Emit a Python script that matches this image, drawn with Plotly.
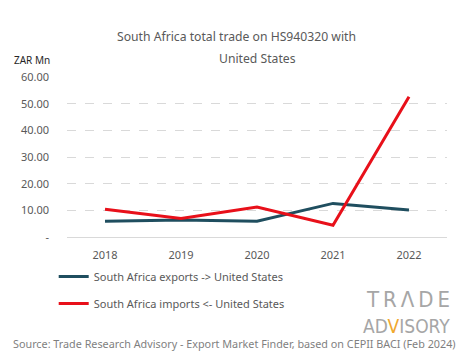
import plotly.graph_objects as go

years = ["2018", "2019", "2020", "2021", "2022"]
exports = [5.9, 6.4, 5.9, 12.6, 10.1]
imports = [10.4, 6.9, 11.2, 4.4, 52.6]
tick_vals = [0, 10, 20, 30, 40, 50, 60]
tick_text = ["-", "10.00", "20.00", "30.00", "40.00", "50.00", "60.00"]

FONT = "Noto Sans"
GREY = "#595959"
LOGO_FONT = "DejaVu Sans Condensed, Liberation Sans Narrow, Liberation Sans"
TS = "\u2009"

fig = go.Figure()
fig.add_trace(go.Scatter(x=years, y=exports, mode="lines", name="South Africa exports -> United States",
                         line=dict(color="#1f4e5f", width=3), legendgroup="a"))
fig.add_trace(go.Scatter(x=years, y=imports, mode="lines", name="South Africa imports <- United States",
                         line=dict(color="#e8101a", width=3), legendgroup="b"))

fig.update_layout(
    width=457, height=351,
    margin=dict(l=59, r=18, t=69, b=122, autoexpand=False),
    paper_bgcolor="white", plot_bgcolor="white",
    font=dict(family=FONT, color=GREY, size=11),
    title=dict(text="South Africa total trade on HS940320 with",
               x=0.5, xanchor="center", y=0.917, yanchor="middle",
               font=dict(size=12.2, color=GREY)),
    xaxis=dict(type="category", showgrid=False, showline=False, ticks="",
               tickfont=dict(size=11, color=GREY), range=[-0.5, 4.5],
               ticklabelstandoff=10, automargin=False),
    yaxis=dict(range=[0, 60], tickvals=tick_vals, ticktext=tick_text,
               showgrid=True, gridcolor="#d9d9d9", griddash="dash", gridwidth=1,
               zeroline=True, zerolinecolor="#d9d9d9", zerolinewidth=1,
               tickfont=dict(size=11, color=GREY), ticklabelstandoff=17, automargin=False),
    legend=dict(orientation="v", x=-0.035, xanchor="left", y=-0.156, yanchor="top",
                font=dict(size=11, color=GREY), tracegroupgap=8, itemwidth=30),
    showlegend=True,
)

fig.add_annotation(text="United States", xref="paper", yref="paper", x=0.5, y=1.0,
                   xanchor="center", yanchor="middle", showarrow=False, yshift=19,
                   font=dict(size=12.2, color=GREY))
fig.add_annotation(text="ZAR Mn", xref="paper", yref="paper", x=-0.145, y=1.0,
                   xanchor="left", yanchor="middle", showarrow=False, yshift=17,
                   font=dict(size=10, color="#262626"))
fig.add_annotation(text=TS.join(["T", "R", "Λ", "D", "E"]), xref="paper", yref="paper",
                   x=1.013, y=-0.3875, xanchor="right", yanchor="middle", showarrow=False,
                   font=dict(size=22, color="#a6a6a6", family=LOGO_FONT))
fig.add_annotation(text="AD<span style='color:#f0a830'>V</span>ISORY", xref="paper", yref="paper",
                   x=1.013, y=-0.556, xanchor="right", yanchor="middle", showarrow=False,
                   font=dict(size=19, color="#a6a6a6", family=LOGO_FONT))
fig.add_annotation(text="Source: Trade Research Advisory - Export Market Finder, based on CEPII BACI (Feb 2024)",
                   xref="paper", yref="paper", x=0.4395, y=-0.6625, xanchor="center", yanchor="middle",
                   showarrow=False, font=dict(size=10.8, color="#7f7f7f"))

fig.write_html("out.html")
